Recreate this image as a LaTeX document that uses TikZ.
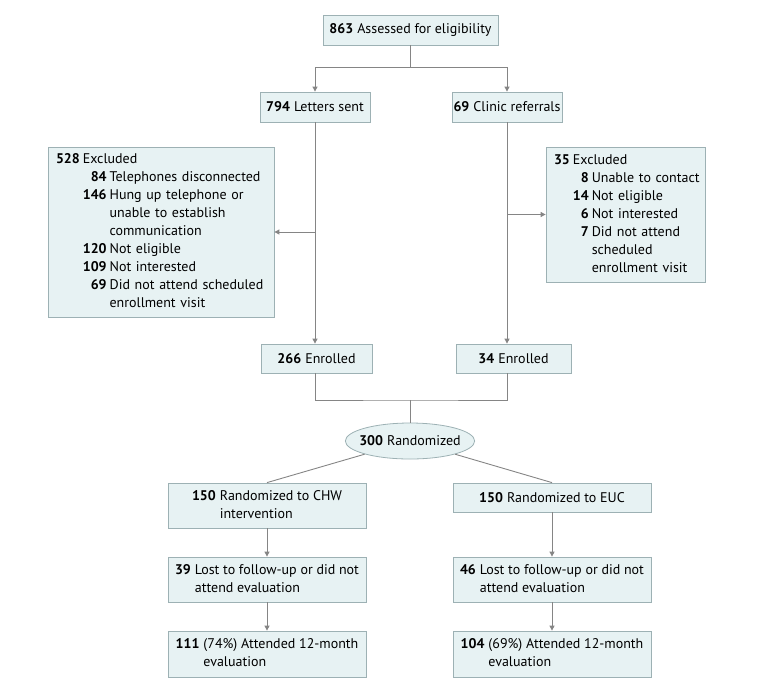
\documentclass[tikz,border=0pt]{standalone}
\usepackage{fontspec}
\setmainfont{PT Sans}
\usetikzlibrary{arrows.meta,shapes.geometric}
\definecolor{boxfill}{HTML}{E7F2F3}
\definecolor{boxdraw}{HTML}{9DB1B4}
\definecolor{linec}{HTML}{858585}
\begin{document}
\begin{tikzpicture}[x=1pt,y=-1pt,
  every node/.style={font=\fontsize{14}{18}\selectfont, inner sep=0pt},
  box/.style={draw=boxdraw, fill=boxfill, line width=0.8pt, rectangle},
  conn/.style={draw=linec, line width=0.9pt},
  arr/.style={conn, -{Triangle[width=5pt,length=5pt]}}]
\useasboundingbox (0,0) rectangle (783,691);
\renewcommand{\arraystretch}{1}
\node[box, minimum width=175pt, minimum height=30pt] (b1) at (410.5,30) {\textbf{863}\hspace{4pt}Assessed for eligibility};
\node[box, minimum width=110pt, minimum height=30pt] (letters) at (315,107) {\textbf{794}\hspace{4pt}Letters sent};
\node[box, minimum width=110pt, minimum height=30pt] (clinic) at (507,107) {\textbf{69}\hspace{4pt}Clinic referrals};
\node[box, minimum width=226pt, minimum height=170pt, text width=210pt, align=left] (exL) at (161,232) {%
\begin{tabular}{@{}l@{\hspace{3pt}}r@{\hspace{3pt}}l@{}}
\textbf{528} & \multicolumn{2}{@{}l@{}}{Excluded}\\
 & \textbf{84} & Telephones disconnected\\
 & \textbf{146} & Hung up telephone or\\
 & & unable to establish\\
 & & communication\\
 & \textbf{120} & Not eligible\\
 & \textbf{109} & Not interested\\
 & \textbf{69} & Did not attend scheduled\\
 & & enrollment visit
\end{tabular}};
\node[box, minimum width=159pt, minimum height=135pt, text width=143pt, align=left] (exR) at (625.5,214.5) {%
\begin{tabular}{@{}l@{\hspace{3pt}}r@{\hspace{3pt}}l@{}}
\textbf{35} & \multicolumn{2}{@{}l@{}}{Excluded}\\
 & \textbf{8} & Unable to contact\\
 & \textbf{14} & Not eligible\\
 & \textbf{6} & Not interested\\
 & \textbf{7} & Did not attend\\
 & & scheduled\\
 & & enrollment visit
\end{tabular}};
\node[box, minimum width=111pt, minimum height=29pt] (enL) at (316.5,358.5) {\textbf{266}\hspace{4pt}Enrolled};
\node[box, minimum width=115pt, minimum height=29pt] (enR) at (513.5,358.5) {\textbf{34}\hspace{4pt}Enrolled};
\node[box, ellipse, inner xsep=-5pt, minimum width=128pt, minimum height=36pt] (rand) at (410,441) {\textbf{300}\hspace{4pt}Randomized};
\node[box, minimum width=198pt, minimum height=45pt] (cL) at (267,505.5) {%
\begin{tabular}{@{}r@{\hspace{4pt}}l@{}}\textbf{150} & Randomized to CHW\\ & intervention\end{tabular}};
\node[box, minimum width=198pt, minimum height=29pt] (cR) at (552,497.5) {\textbf{150}\hspace{4pt}Randomized to EUC};
\node[box, minimum width=198pt, minimum height=45pt] (lL) at (267,579.5) {%
\begin{tabular}{@{}r@{\hspace{4pt}}l@{}}\textbf{39} & Lost to follow-up or did not\\ & attend evaluation\end{tabular}};
\node[box, minimum width=198pt, minimum height=45pt] (lR) at (552,579.5) {%
\begin{tabular}{@{}r@{\hspace{4pt}}l@{}}\textbf{46} & Lost to follow-up or did not\\ & attend evaluation\end{tabular}};
\node[box, minimum width=198pt, minimum height=46pt] (aL) at (267,654) {%
\begin{tabular}{@{}r@{\hspace{4pt}}l@{}}\textbf{111} & (74\%) Attended 12-month\\ & evaluation\end{tabular}};
\node[box, minimum width=198pt, minimum height=46pt] (aR) at (552,654) {%
\begin{tabular}{@{}r@{\hspace{4pt}}l@{}}\textbf{104} & (69\%) Attended 12-month\\ & evaluation\end{tabular}};
\coordinate (split) at (410.5,67);
\coordinate (m) at (410,400);
% connectors
\draw[conn] (b1.south) -- (split);
\draw[arr] (split) -| (letters.north);
\draw[arr] (split) -| (clinic.north);
\draw[arr] (letters.south) -- (letters.south |- enL.north);
\draw[arr] (clinic.south) -- (clinic.south |- enR.north);
\draw[arr] (letters.south |- exL.east) -- (exL.east);
\draw[arr] (clinic.south |- exR.west) -- (exR.west);
\draw[conn] (letters.south |- enL.south) |- (m) -| (clinic.south |- enR.south);
\draw[conn] (m) -- (rand.north);
\draw[conn] (rand) -- (cL.north);
\draw[conn] (rand) -- (cR.north);
\draw[arr] (cL) -- (lL);
\draw[arr] (cR) -- (cR |- lR.north);
\draw[arr] (lL) -- (aL);
\draw[arr] (lR) -- (aR);
\end{tikzpicture}
\end{document}
